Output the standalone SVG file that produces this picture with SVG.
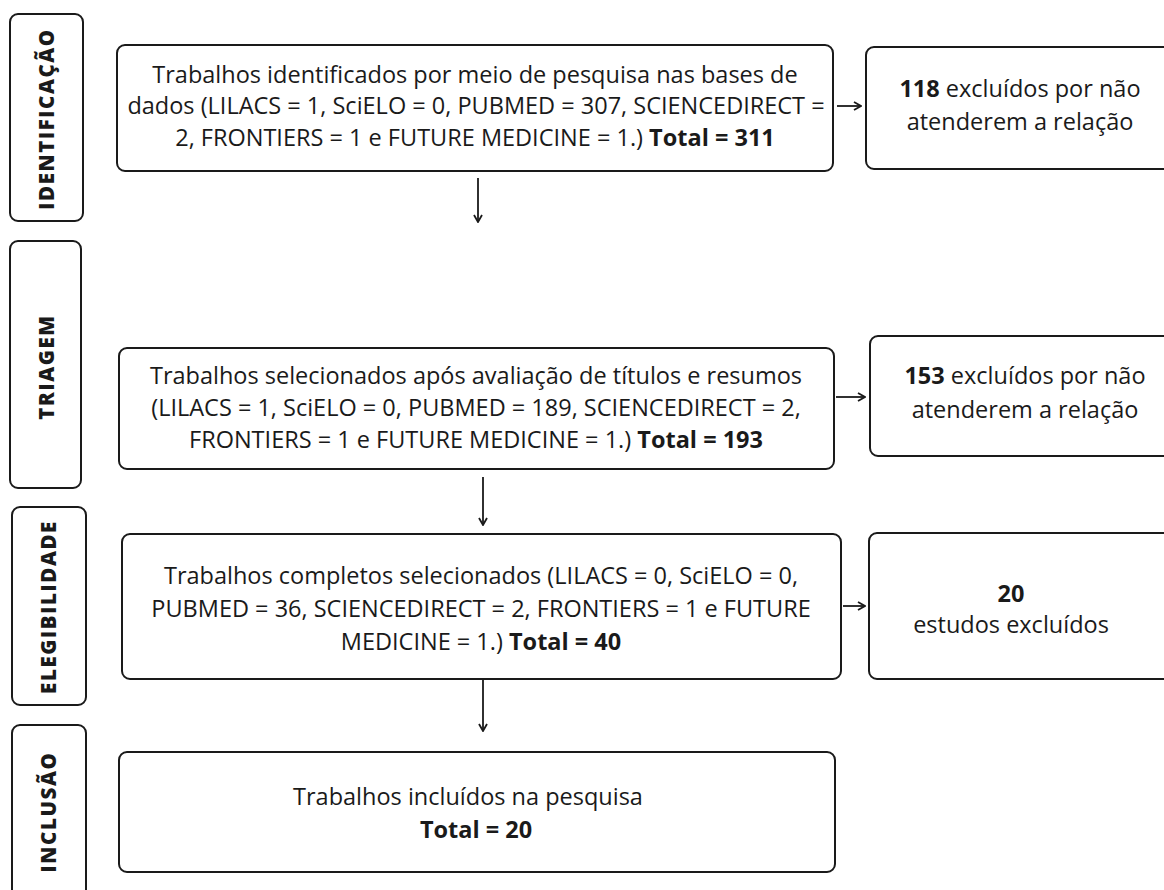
<svg xmlns="http://www.w3.org/2000/svg" width="1164" height="890" viewBox="0 0 1164 890">
<defs>
<marker id="ah" viewBox="0 0 10 10" refX="9" refY="5" markerWidth="10" markerHeight="10" markerUnits="userSpaceOnUse" orient="auto">
<path d="M2,1 L9,5 L2,9" fill="none" stroke="#1a1a1a" stroke-width="1.8"/>
</marker>
<style>
.box{fill:#fff;stroke:#1a1a1a;stroke-width:2}
.t{font-family:"Open Sans","Liberation Sans",sans-serif;font-size:23.5px;fill:#1a1a1a;text-anchor:middle}
.b{font-weight:bold}
.lab{font-family:"Open Sans","Liberation Sans",sans-serif;font-size:20.5px;font-weight:800;letter-spacing:1.6px;fill:#1a1a1a;text-anchor:middle;dominant-baseline:central}
.c{stroke:#1a1a1a;stroke-width:1.8;fill:none;marker-end:url(#ah)}
</style>
</defs>
<rect width="1164" height="890" fill="#fff"/>
<g id="lab-identificacao"><rect class="box" x="10" y="14" width="73" height="207" rx="8"/><text class="lab" transform="translate(46,119) rotate(-90)">IDENTIFICAÇÃO</text></g>
<g id="lab-triagem"><rect class="box" x="10" y="241" width="71" height="247" rx="8"/><text class="lab" transform="translate(46,367) rotate(-90)">TRIAGEM</text></g>
<g id="lab-elegibilidade"><rect class="box" x="12" y="507" width="74" height="198" rx="8"/><text class="lab" transform="translate(48,607) rotate(-90)">ELEGIBILIDADE</text></g>
<g id="lab-inclusao"><rect class="box" x="12" y="725" width="74" height="180" rx="8"/><text class="lab" transform="translate(48,812) rotate(-90)">INCLUSÃO</text></g>

<g id="box1"><rect class="box" x="117" y="45" width="716" height="126" rx="8"/>
<text class="t" x="475" y="83">Trabalhos identificados por meio de pesquisa nas bases de</text>
<text class="t" x="476" y="114">dados (LILACS = 1, SciELO = 0, PUBMED = 307, SCIENCEDIRECT =</text>
<text class="t" x="475" y="146">2, FRONTIERS = 1 e FUTURE MEDICINE = 1.) <tspan class="b">Total = 311</tspan></text></g>
<g id="excl1"><rect class="box" x="866" y="47" width="310" height="122" rx="8"/>
<text class="t" x="1020" y="97"><tspan class="b">118</tspan> excluídos por não</text>
<text class="t" x="1020" y="130">atenderem a relação</text></g>

<g id="box2"><rect class="box" x="119" y="348" width="715" height="121" rx="8"/>
<text class="t" x="476" y="384">Trabalhos selecionados após avaliação de títulos e resumos</text>
<text class="t" x="476" y="416">(LILACS = 1, SciELO = 0, PUBMED = 189, SCIENCEDIRECT = 2,</text>
<text class="t" x="476" y="448">FRONTIERS = 1 e FUTURE MEDICINE = 1.) <tspan class="b">Total = 193</tspan></text></g>
<g id="excl2"><rect class="box" x="870" y="336" width="306" height="120" rx="8"/>
<text class="t" x="1025" y="384"><tspan class="b">153</tspan> excluídos por não</text>
<text class="t" x="1025" y="418">atenderem a relação</text></g>

<g id="box3"><rect class="box" x="122" y="534" width="719" height="145" rx="8"/>
<text class="t" x="481" y="584">Trabalhos completos selecionados (LILACS = 0, SciELO = 0,</text>
<text class="t" x="481" y="617">PUBMED = 36, SCIENCEDIRECT = 2, FRONTIERS = 1 e FUTURE</text>
<text class="t" x="481" y="650">MEDICINE = 1.) <tspan class="b">Total = 40</tspan></text></g>
<g id="excl3"><rect class="box" x="869" y="533" width="307" height="146" rx="8"/>
<text class="t b" x="1011" y="602">20</text>
<text class="t" x="1011" y="633">estudos excluídos</text></g>

<g id="box4"><rect class="box" x="119" y="752" width="716" height="120" rx="8"/>
<text class="t" x="468" y="805">Trabalhos incluídos na pesquisa</text>
<text class="t b" x="476" y="838">Total = 20</text></g>

<g id="connectors">
<line class="c" x1="837" y1="106" x2="861" y2="106"/>
<line class="c" x1="836" y1="397" x2="865" y2="397"/>
<line class="c" x1="843" y1="606" x2="865" y2="606"/>
<line class="c" x1="478" y1="178" x2="478" y2="222"/>
<line class="c" x1="483" y1="477" x2="483" y2="525"/>
<line class="c" x1="483" y1="680" x2="483" y2="731"/>
</g>
</svg>
